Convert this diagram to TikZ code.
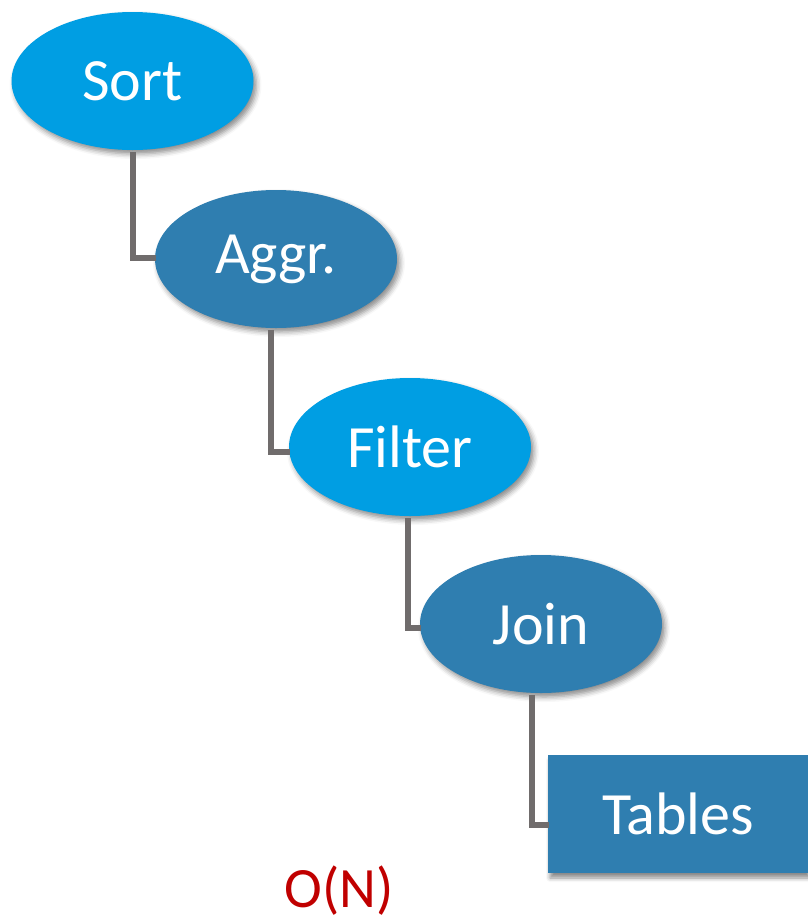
\documentclass[tikz,border=0pt]{standalone}
\usepackage{fontspec}
\setmainfont{Carlito}
\usetikzlibrary{shapes.geometric,shadows.blur}
\definecolor{brightblue}{RGB}{0,158,227}
\definecolor{steelblue}{RGB}{47,126,176}
\definecolor{linkgray}{RGB}{112,108,108}
\definecolor{costred}{RGB}{192,0,0}
\tikzset{
  op/.style={ellipse, minimum width=242pt, minimum height=138pt, inner sep=0pt,
    text=white, font=\fontsize{60}{72}\selectfont,
    blur shadow={shadow xshift=3pt, shadow yshift=-4pt, shadow blur radius=5pt, shadow opacity=45}},
  opbright/.style={op, fill=brightblue},
  opsteel/.style={op, fill=steelblue},
  tablebox/.style={rectangle, fill=steelblue, minimum width=260pt, minimum height=118pt,
    inner sep=0pt, text=white, font=\fontsize{60}{72}\selectfont,
    blur shadow={shadow xshift=2pt, shadow yshift=-5pt, shadow blur radius=4pt, shadow opacity=45}},
  link/.style={draw=linkgray, line width=6pt},
}
\begin{document}
\begin{tikzpicture}[x=1pt,y=-1pt]
\useasboundingbox (0,0) rectangle (807,924);
% operator tree
\node[opbright] (sort)   at (132.5,81)  {Sort};
\node[opsteel]  (aggr)   at (276,259)   {Aggr.};
\node[opbright] (filter) at (410,447)   {Filter};
\node[opsteel]  (join)   at (541,624)   {Join};
\node[tablebox] (tables) at (678,814)   {Tables};
% elbow connectors from each parent down to its child
\draw[link] ([yshift=-2pt]sort.south) |- ([xshift=1pt,yshift=1pt]aggr.west);
\draw[link] ([xshift=-5pt,yshift=-2pt]aggr.south) |- ([xshift=1pt,yshift=-5pt]filter.west);
\draw[link] ([xshift=-2pt,yshift=-2pt]filter.south) |- ([xshift=1pt,yshift=-4pt]join.west);
\draw[link] ([xshift=-9pt,yshift=-2pt]join.south) |- ([xshift=1pt,yshift=-11pt]tables.west);
% cost label
\node[text=costred, font=\fontsize{57}{68}\selectfont, inner sep=0pt, anchor=base]
  (cost) at (339,907) {O(N)};
\end{tikzpicture}
\end{document}
